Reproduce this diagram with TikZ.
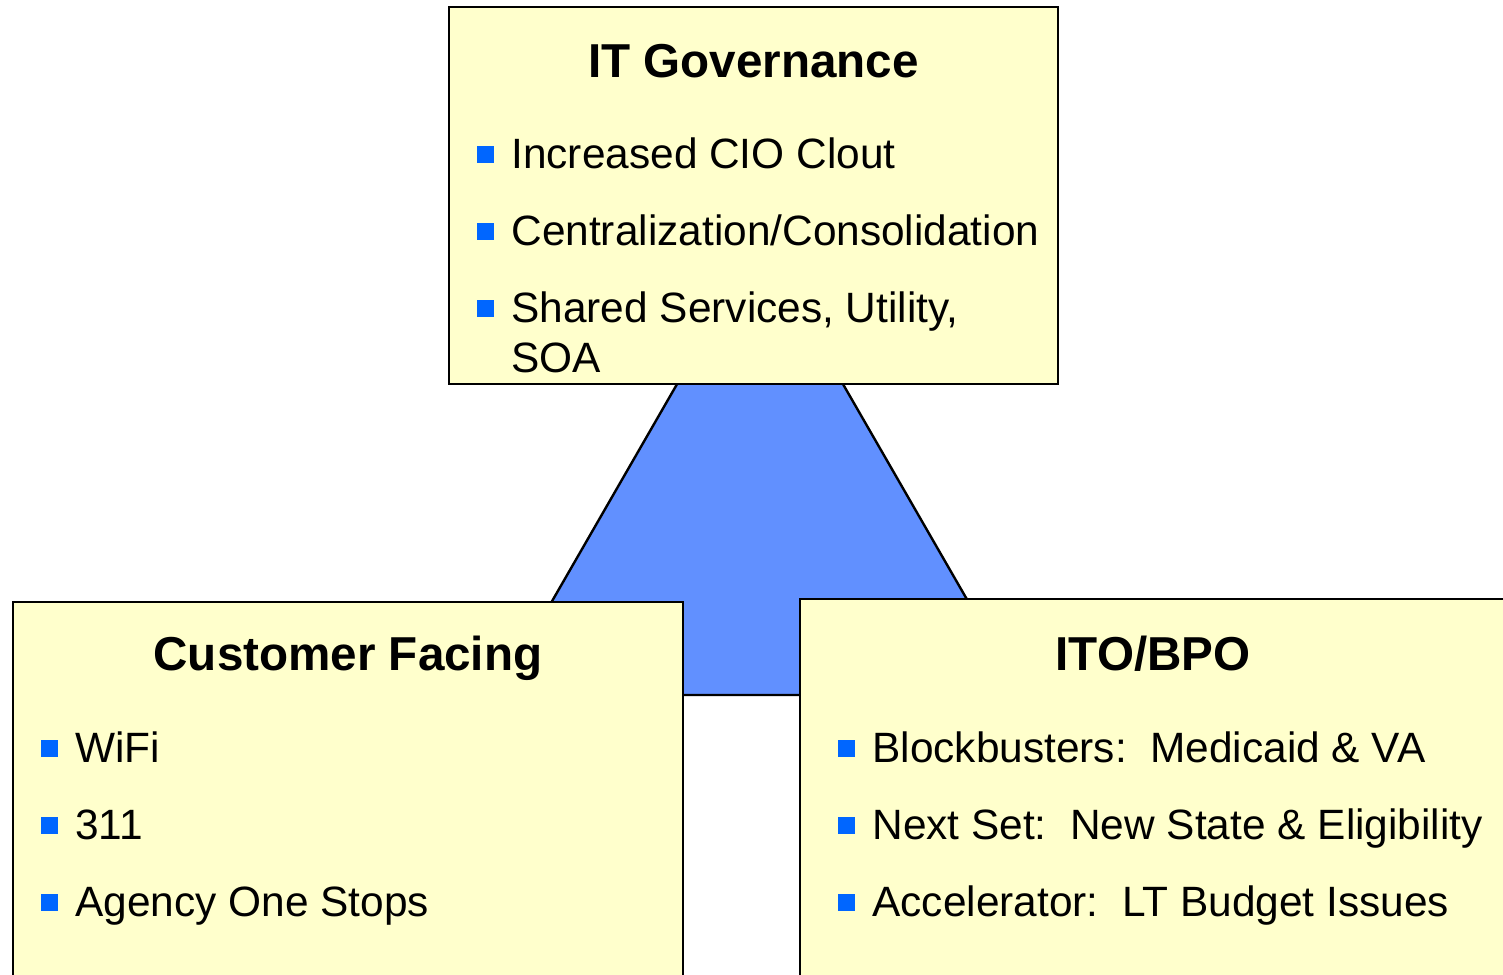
\documentclass[tikz,border=0pt]{standalone}
\usepackage{fontspec}
\setmainfont{Liberation Sans}
\definecolor{boxyellow}{HTML}{FFFFCC}
\definecolor{arrowblue}{HTML}{6190FF}
\definecolor{bulletblue}{HTML}{0066FF}
\begin{document}
\begin{tikzpicture}[x=0.5pt,y=-0.5pt,
  box/.style={draw=black, line width=1.2pt, fill=boxyellow, inner sep=0pt},
  heading/.style={font=\fontsize{23.8}{28}\selectfont\bfseries, anchor=base, inner sep=0pt},
  item/.style={font=\fontsize{21.2}{25}\selectfont, anchor=base west, inner sep=0pt, align=left},
  bul/.style={fill=bulletblue, minimum size=8.5pt, inner sep=0pt, anchor=south west}]
\useasboundingbox (0,0) rectangle (1503,974);
\clip (0,0) rectangle (1503,974);
% arrow triangle behind the boxes
\filldraw[fill=arrowblue, draw=black, line width=1.2pt, line join=miter]
  (760,240) -- (1022,695) -- (498,695) -- cycle;
% boxes
\node[box, minimum width=304.5pt, minimum height=188.5pt] (gov) at (753.5,195.5) {};
\node[box, minimum width=335pt, minimum height=199pt] (cust) at (348,801) {};
\node[box, minimum width=365pt, minimum height=200.5pt] (ito) at (1165,799.5) {};
% IT Governance
\node[heading] (govt) at (753.5,78) {IT Governance};
\node[bul] (gb1) at (477,163) {};
\node[item] (gi1) at (511,168) {Increased CIO Clout};
\node[bul] (gb2) at (477,240) {};
\node[item] (gi2) at (511,245) {Centralization/Consolidation};
\node[bul] (gb3) at (477,317) {};
\node[item] (gi3) at (511,322) {Shared Services, Utility,};
\node[item] (gi3b) at (511,372) {SOA};
% Customer Facing
\node[heading] (custt) at (348,670) {Customer Facing};
\node[bul] (cb1) at (41,757) {};
\node[item] (ci1) at (75,762) {WiFi};
\node[bul] (cb2) at (41,834) {};
\node[item] (ci2) at (75,839) {311};
\node[bul] (cb3) at (41,911) {};
\node[item] (ci3) at (75,916) {Agency One Stops};
% ITO/BPO
\node[heading] (itot) at (1153,670) {ITO/BPO};
\node[bul] (ib1) at (838,757) {};
\node[item] (ii1) at (872,762) {Blockbusters:\ \ Medicaid \& VA};
\node[bul] (ib2) at (838,834) {};
\node[item] (ii2) at (872,839) {Next Set:\ \ New State \& Eligibility};
\node[bul] (ib3) at (838,911) {};
\node[item] (ii3) at (872,916) {Accelerator:\ \ LT Budget Issues};
\end{tikzpicture}
\end{document}
